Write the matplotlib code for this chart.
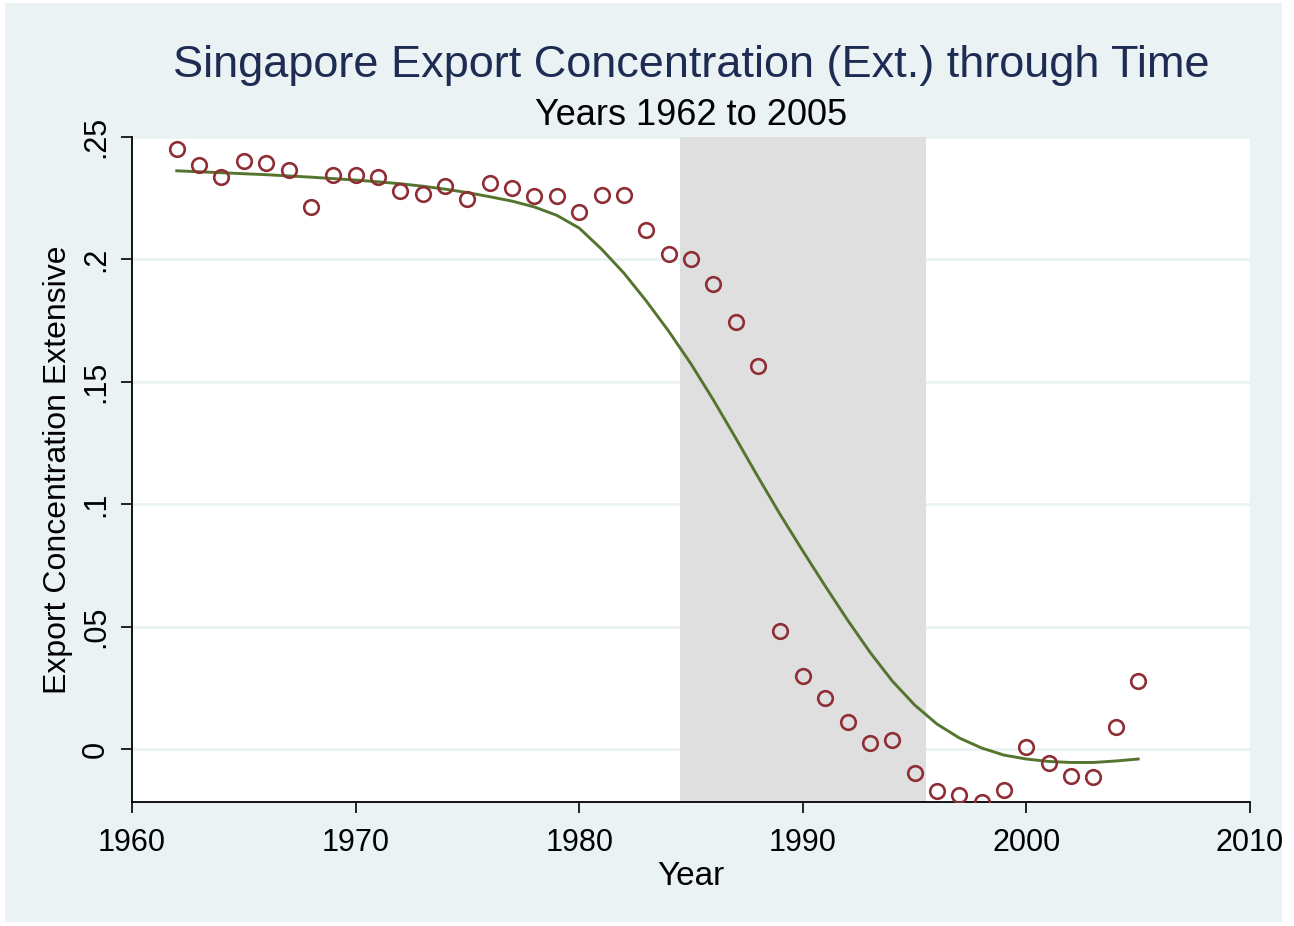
import matplotlib.pyplot as plt
from matplotlib.patches import Rectangle

plt.rcParams['font.family'] = ['Liberation Sans', 'DejaVu Sans']

# data
years = list(range(1962, 2006))
conc = [0.2451, 0.2386, 0.2337, 0.2402, 0.2394, 0.2365, 0.2214, 0.2345, 0.2345, 0.2337,
        0.2279, 0.2267, 0.2300, 0.2247, 0.2312, 0.2292, 0.2259, 0.2259, 0.2194, 0.2263,
        0.2263, 0.2120, 0.2022, 0.2002, 0.1900, 0.1744, 0.1565, 0.0482, 0.0298, 0.0208,
        0.0110, 0.0025, 0.0037, -0.0098, -0.0172, -0.0188, -0.0217, -0.0167, 0.0008, -0.0057,
        -0.0110, -0.0114, 0.0090, 0.0278]
fit = [0.2362, 0.2358, 0.2354, 0.2350, 0.2346, 0.2341, 0.2336, 0.2330, 0.2324, 0.2317,
       0.2309, 0.2299, 0.2287, 0.2273, 0.2256, 0.2238, 0.2214, 0.2180, 0.2128, 0.2042,
       0.1944, 0.1830, 0.1707, 0.1573, 0.1426, 0.1270, 0.1111, 0.0956, 0.0809, 0.0666,
       0.0527, 0.0396, 0.0278, 0.0180, 0.0102, 0.0045, 0.0004, -0.0025, -0.0041, -0.0051,
       -0.0055, -0.0055, -0.0049, -0.0041]
shade = (1984.5, 1995.5)
yticks = [0, 0.05, 0.1, 0.15, 0.2, 0.25]
ytick_labels = ['0', '.05', '.1', '.15', '.2', '.25']
xticks = [1960, 1970, 1980, 1990, 2000, 2010]

W, H = 1294, 926
fig = plt.figure(figsize=(W / 100, H / 100), dpi=100, facecolor='white')
bg = Rectangle((5 / W, 1 - 922 / H), (1282 - 5) / W, (922 - 3) / H, transform=fig.transFigure,
               facecolor='#EAF2F3', edgecolor='none', zorder=-10)
fig.patches.append(bg)

ax = fig.add_axes([132 / W, 1 - 802 / H, (1250 - 132) / W, (802 - 137) / H])
ax.set_facecolor('white')

ax.axvspan(shade[0], shade[1], color='#DFDFDF', zorder=1, lw=0)
ax.plot(years, fit, color='#55752F', lw=2.1, zorder=3)
ax.plot(years, conc, ls='none', marker='o', markersize=10.5, mfc='none',
        mec='#8F2F35', mew=1.9, zorder=4)

ax.set_xlim(1960, 2010)
ax.set_ylim(-0.02165, 0.25)
ax.set_xticks(xticks)
ax.set_yticks(yticks)
ax.set_yticklabels(ytick_labels, rotation=90, va='center')
ax.yaxis.grid(True, color='#EAF2F3', lw=2, zorder=0)
ax.set_axisbelow(True)
for s in ['top', 'right']:
    ax.spines[s].set_visible(False)
for s in ['left', 'bottom']:
    ax.spines[s].set_linewidth(1.3)
ax.tick_params(axis='both', length=8, width=1.2, labelsize=22, direction='out')
ax.tick_params(axis='x', pad=11)
ax.tick_params(axis='y', pad=7)
for lab in ax.get_xticklabels():
    lab.set_clip_path(bg)

ax.set_xlabel('Year', fontsize=24, labelpad=2)
ax.set_ylabel('Export Concentration Extensive', fontsize=23, labelpad=6)

cx = (132 + 1250) / 2 / W
fig.text(cx, 1 - 77 / H, 'Singapore Export Concentration (Ext.) through Time',
         ha='center', va='baseline', fontsize=32.5, color='#1E2C53')
fig.text(cx, 1 - 125 / H, 'Years 1962 to 2005', ha='center', va='baseline',
         fontsize=26, color='black')

fig.savefig('out.png', dpi=100, facecolor='white')
